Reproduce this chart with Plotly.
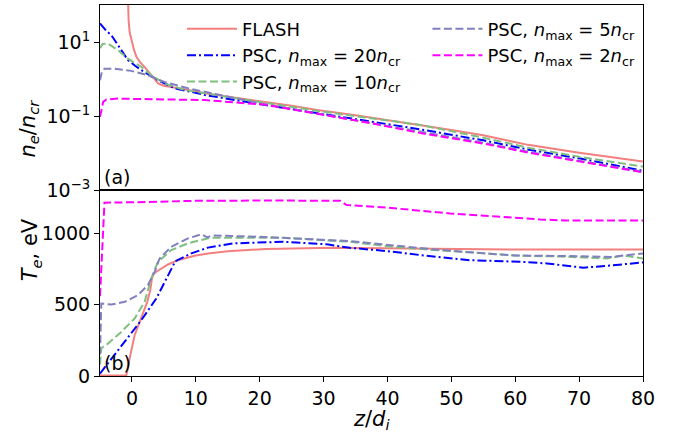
import plotly.graph_objects as go

# ---------------- data ----------------
# Panel (a): electron density n_e/n_cr
z_flash_n = [-0.75, -0.68, -0.6, -0.52, -0.35, -0.1, 0.3, 0.7, 1.3, 2.0, 2.7, 3.3, 4.1, 5.0, 6.7, 9,
             11.4, 15, 20, 25, 29, 35, 40, 45, 50, 55, 62, 70, 75, 80]
n_flash = [1000, 160, 63, 38, 18, 11.2, 6.3, 4.0, 2.8, 2.1, 1.5, 1.05, 0.76, 0.66, 0.59, 0.50,
           0.41, 0.33, 0.25, 0.19, 0.145, 0.105, 0.078, 0.058, 0.042, 0.030, 0.0166, 0.0102, 0.0078, 0.0059]

z_n20_n = [-5, -4, -3.2, -2, -0.63, 0.5, 1.46, 2.8, 4.07, 5.5, 6.69, 9, 11.4, 20, 28.9, 37, 45, 55, 62.4, 70, 80]
n_n20 = [31.6, 20, 15.1, 7.4, 3.24, 2.29, 1.74, 1.26, 0.93, 0.71, 0.56, 0.46, 0.37, 0.21, 0.12, 0.074,
         0.044, 0.022, 0.012, 0.0072, 0.0033]

z_n10_n = [-5, -4.6, -3.76, -2.19, -0.63, 1.46, 3.03, 5.1, 8, 11.4, 20, 28.9, 37, 45, 55, 62.4, 70, 80]
n_n10 = [6.8, 8.9, 9.1, 6.0, 3.55, 2.14, 1.26, 0.76, 0.52, 0.41, 0.24, 0.138, 0.089, 0.058, 0.026,
         0.0135, 0.0079, 0.0043]

z_n5_n = [-5, -4.7, -4.3, -2.7, -0.1, 2.5, 5.1, 8.77, 11.4, 20, 28.9, 37, 45, 55, 62.4, 70, 80]
n_n5 = [0.93, 1.58, 1.9, 1.9, 1.66, 1.26, 0.83, 0.56, 0.45, 0.22, 0.117, 0.066, 0.038, 0.019, 0.0105,
        0.0063, 0.0031]

z_n2_n = [-5, -4.5, -4, -2.2, 5.1, 11.4, 21, 29, 37, 45, 55, 62.4, 70, 80]
n_n2 = [0.095, 0.24, 0.28, 0.295, 0.28, 0.27, 0.20, 0.117, 0.066, 0.035, 0.018, 0.010, 0.006, 0.003]

# Panel (b): electron temperature T_e (eV)
z_flash_t = [-5, -0.9, -0.6, -0.37, 0.42, 1.46, 2.4, 2.87, 3.13, 3.4, 3.81, 5.64, 7.2, 9.8, 11.9, 15,
             21, 31.5, 40, 47, 60, 80]
t_flash = [3, 3, 60, 122, 286, 415, 520, 602, 684, 715, 731, 782, 812, 843, 859, 875,
           890, 899, 895, 890, 887, 887]

z_n20_t = [-5, -2.98, -0.63, 1.46, 3.81, 5.38, 6.79, 9.3, 11.9, 15.9, 23.7, 30.5, 34.1, 39.9, 45.1,
           52.9, 60.8, 65, 70.7, 74.4, 80]
t_n20 = [17, 134, 263, 391, 543, 684, 805, 860, 900, 930, 941, 923, 899, 876, 848,
         812, 801, 789, 759, 773, 796]

z_n10_t = [-5, -4.8, -3.76, -1.67, 0.42, 1.99, 3.03, 4.07, 6.16, 8.77, 12.2, 23.7, 34.1, 40, 46.7,
           55, 60.8, 67, 74.4, 77, 80]
t_n10 = [80, 195, 227, 309, 403, 520, 684, 801, 883, 930, 969, 969, 941, 910, 885,
         860, 843, 838, 824, 845, 824]

z_n5_t = [-5, -4.85, -4.8, -3.2, -1.1, 0.94, 2.5, 3.55, 4.33, 6.16, 8.77, 10.86, 11.8, 12.5, 20.1,
          34.1, 46.7, 55, 60, 70, 75, 80]
t_n5 = [150, 480, 508, 501, 520, 567, 637, 730, 824, 906, 965, 993, 972, 985, 976,
        946, 890, 860, 845, 840, 835, 859]

z_n2_t = [-5, -4.6, -4.3, 0, 10, 20, 32.6, 33.6, 40, 49.8, 57.6, 63.9, 68, 80]
t_n2 = [560, 1000, 1215, 1218, 1228, 1230, 1229, 1199, 1180, 1140, 1114, 1098, 1090, 1090]

x_ticks = [0, 10, 20, 30, 40, 50, 60, 70, 80]
n_ticks = [1e-3, 1e-1, 1e1]
n_tick_text = ["10<sup>−3</sup>", "10<sup>−1</sup>", "10<sup>1</sup>"]
t_ticks = [0, 500, 1000]

labels = ["FLASH",
          "PSC, <i>n</i><sub>max</sub> = 20<i>n</i><sub>cr</sub>",
          "PSC, <i>n</i><sub>max</sub> = 10<i>n</i><sub>cr</sub>",
          "PSC, <i>n</i><sub>max</sub> = 5<i>n</i><sub>cr</sub>",
          "PSC, <i>n</i><sub>max</sub> = 2<i>n</i><sub>cr</sub>"]

# ---------------- styles ----------------
FONT = "DejaVu Sans"
TICK = 19
LEG = 18
TITLE = 21
styles = [
    dict(color="#f47f7f", width=2, dash="solid"),
    dict(color="#0000ff", width=2, dash="9px,3px,2px,3px"),
    dict(color="#7fbf7f", width=2, dash="8px,3.5px"),
    dict(color="#8080bf", width=2, dash="8px,3.5px"),
    dict(color="#ff00ff", width=2, dash="8px,3.5px"),
]
legend_ids = ["legend", "legend", "legend", "legend2", "legend2"]

dens = [(z_flash_n, n_flash), (z_n20_n, n_n20), (z_n10_n, n_n10), (z_n5_n, n_n5), (z_n2_n, n_n2)]
temp = [(z_flash_t, t_flash), (z_n20_t, t_n20), (z_n10_t, t_n10), (z_n5_t, t_n5), (z_n2_t, t_n2)]

fig = go.Figure()
for i in range(5):
    zx, yv = dens[i]
    fig.add_trace(go.Scatter(x=zx, y=yv, mode="lines", line=styles[i], name=labels[i],
                             xaxis="x", yaxis="y", legend=legend_ids[i], showlegend=True))
for i in range(5):
    zx, yv = temp[i]
    fig.add_trace(go.Scatter(x=zx, y=yv, mode="lines", line=styles[i], name=labels[i],
                             xaxis="x2", yaxis="y2", showlegend=False))

split = 186 / 371
axis_common = dict(showline=True, mirror=True, linecolor="black", linewidth=1,
                   showgrid=False, zeroline=False,
                   tickfont=dict(family=FONT, size=TICK, color="black"))

fig.update_layout(
    width=678, height=437,
    margin=dict(l=100, r=35, t=5, b=61),
    paper_bgcolor="white", plot_bgcolor="white",
    font=dict(family=FONT, size=TICK, color="black"),
    xaxis=dict(domain=[0, 1], range=[-5, 80], anchor="y", showticklabels=False, ticks="",
               **axis_common),
    yaxis=dict(domain=[split, 1], type="log", range=[-3, 2], anchor="x",
               tickvals=n_ticks, ticktext=n_tick_text, ticks="outside", ticklen=5,
               tickcolor="black", **axis_common),
    xaxis2=dict(domain=[0, 1], range=[-5, 80], anchor="y2", tickvals=x_ticks,
                ticks="outside", ticklen=5, tickcolor="black", **axis_common),
    yaxis2=dict(domain=[0, split], range=[0, 1304], anchor="x2", tickvals=t_ticks,
                ticks="outside", ticklen=5, tickcolor="black", **axis_common),
    legend=dict(x=0.151, y=0.985, xanchor="left", yanchor="top", bgcolor="rgba(0,0,0,0)",
                font=dict(family=FONT, size=LEG), itemwidth=50, tracegroupgap=0),
    legend2=dict(x=0.603, y=0.985, xanchor="left", yanchor="top", bgcolor="rgba(0,0,0,0)",
                 font=dict(family=FONT, size=LEG), itemwidth=50, tracegroupgap=0),
    annotations=[
        dict(text="(a)", x=0.003, y=split, xref="paper", yref="paper", xanchor="left",
             yanchor="bottom", showarrow=False, font=dict(family=FONT, size=TICK)),
        dict(text="(b)", x=0.003, y=0, xref="paper", yref="paper", xanchor="left",
             yanchor="bottom", showarrow=False, font=dict(family=FONT, size=TICK)),
        dict(text="<i>n<sub>e</sub></i>/<i>n<sub>cr</sub></i>", x=-0.16, y=(1 + split) / 2,
             xref="paper", yref="paper", textangle=-90, showarrow=False,
             font=dict(family=FONT, size=TITLE)),
        dict(text="<i>T<sub>e</sub></i>, eV", x=-0.155, y=split / 2,
             xref="paper", yref="paper", textangle=-90, showarrow=False,
             font=dict(family=FONT, size=TITLE)),
        dict(text="<i>z</i>/<i>d<sub>i</sub></i>", x=0.5, y=-0.118, xref="paper", yref="paper",
             yanchor="middle", showarrow=False, font=dict(family=FONT, size=TITLE)),
    ],
)

fig.write_html("out.html")
